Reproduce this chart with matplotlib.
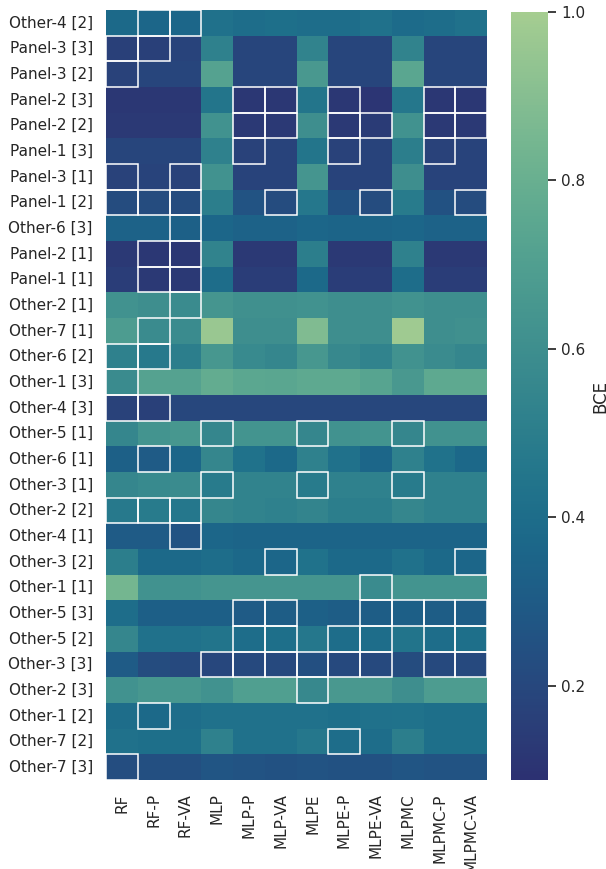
import numpy as np
import pandas as pd
import matplotlib
matplotlib.use("Agg")
import matplotlib.pyplot as plt
from matplotlib.patches import Rectangle
import seaborn as sns

models = ["RF", "RF-P", "RF-VA", "MLP", "MLP-P", "MLP-VA", "MLPE", "MLPE-P",
          "MLPE-VA", "MLPMC", "MLPMC-P", "MLPMC-VA"]

datasets = ["Other-4 [2]", "Panel-3 [3]", "Panel-3 [2]", "Panel-2 [3]", "Panel-2 [2]",
            "Panel-1 [3]", "Panel-3 [1]", "Panel-1 [2]", "Other-6 [3]", "Panel-2 [1]",
            "Panel-1 [1]", "Other-2 [1]", "Other-7 [1]", "Other-6 [2]", "Other-1 [3]",
            "Other-4 [3]", "Other-5 [1]", "Other-6 [1]", "Other-3 [1]", "Other-2 [2]",
            "Other-4 [1]", "Other-3 [2]", "Other-1 [1]", "Other-5 [3]", "Other-5 [2]",
            "Other-3 [3]", "Other-2 [3]", "Other-1 [2]", "Other-7 [2]", "Other-7 [3]"]

bce = [
    [0.38, 0.36, 0.36, 0.42, 0.40, 0.41, 0.40, 0.40, 0.42, 0.39, 0.40, 0.42],
    [0.16, 0.16, 0.18, 0.52, 0.19, 0.19, 0.53, 0.19, 0.19, 0.53, 0.19, 0.19],
    [0.17, 0.19, 0.19, 0.72, 0.19, 0.19, 0.66, 0.19, 0.19, 0.74, 0.19, 0.19],
    [0.12, 0.12, 0.12, 0.45, 0.12, 0.12, 0.45, 0.12, 0.11, 0.46, 0.12, 0.12],
    [0.13, 0.13, 0.13, 0.62, 0.13, 0.13, 0.60, 0.13, 0.14, 0.62, 0.13, 0.13],
    [0.19, 0.19, 0.19, 0.52, 0.17, 0.18, 0.45, 0.17, 0.18, 0.50, 0.17, 0.18],
    [0.17, 0.18, 0.17, 0.62, 0.18, 0.18, 0.64, 0.18, 0.18, 0.60, 0.18, 0.18],
    [0.22, 0.22, 0.22, 0.50, 0.26, 0.22, 0.46, 0.25, 0.22, 0.48, 0.25, 0.22],
    [0.34, 0.34, 0.33, 0.36, 0.34, 0.34, 0.36, 0.35, 0.35, 0.36, 0.34, 0.34],
    [0.13, 0.12, 0.12, 0.53, 0.13, 0.13, 0.50, 0.13, 0.13, 0.52, 0.13, 0.13],
    [0.15, 0.13, 0.13, 0.40, 0.15, 0.15, 0.38, 0.15, 0.15, 0.40, 0.15, 0.15],
    [0.62, 0.60, 0.58, 0.64, 0.61, 0.61, 0.62, 0.60, 0.60, 0.62, 0.60, 0.60],
    [0.68, 0.58, 0.58, 0.96, 0.60, 0.60, 0.88, 0.60, 0.60, 0.98, 0.60, 0.61],
    [0.52, 0.47, 0.50, 0.65, 0.57, 0.55, 0.65, 0.56, 0.53, 0.62, 0.58, 0.55],
    [0.58, 0.72, 0.72, 0.78, 0.75, 0.74, 0.76, 0.76, 0.73, 0.66, 0.76, 0.76],
    [0.17, 0.16, 0.20, 0.20, 0.20, 0.20, 0.20, 0.20, 0.20, 0.20, 0.20, 0.20],
    [0.55, 0.63, 0.65, 0.55, 0.63, 0.63, 0.55, 0.62, 0.63, 0.55, 0.62, 0.62],
    [0.33, 0.30, 0.36, 0.55, 0.43, 0.38, 0.52, 0.42, 0.36, 0.52, 0.43, 0.37],
    [0.55, 0.57, 0.58, 0.48, 0.53, 0.53, 0.48, 0.52, 0.52, 0.48, 0.52, 0.52],
    [0.47, 0.48, 0.46, 0.55, 0.53, 0.52, 0.54, 0.50, 0.50, 0.55, 0.52, 0.52],
    [0.30, 0.30, 0.26, 0.36, 0.35, 0.35, 0.35, 0.35, 0.35, 0.35, 0.35, 0.35],
    [0.50, 0.38, 0.38, 0.40, 0.37, 0.36, 0.43, 0.38, 0.38, 0.42, 0.38, 0.36],
    [0.84, 0.62, 0.62, 0.64, 0.64, 0.64, 0.64, 0.64, 0.58, 0.63, 0.63, 0.63],
    [0.40, 0.32, 0.32, 0.32, 0.30, 0.31, 0.33, 0.31, 0.31, 0.32, 0.31, 0.31],
    [0.55, 0.42, 0.42, 0.44, 0.40, 0.41, 0.46, 0.40, 0.40, 0.44, 0.40, 0.41],
    [0.30, 0.22, 0.21, 0.20, 0.21, 0.21, 0.24, 0.21, 0.21, 0.22, 0.21, 0.21],
    [0.62, 0.65, 0.65, 0.62, 0.70, 0.70, 0.56, 0.66, 0.66, 0.60, 0.68, 0.68],
    [0.40, 0.38, 0.40, 0.42, 0.42, 0.42, 0.42, 0.41, 0.42, 0.43, 0.41, 0.41],
    [0.42, 0.41, 0.41, 0.52, 0.42, 0.42, 0.46, 0.40, 0.40, 0.50, 0.41, 0.41],
    [0.23, 0.24, 0.24, 0.27, 0.26, 0.25, 0.26, 0.25, 0.25, 0.27, 0.26, 0.26],
]

# highlighted (best) cells per dataset
best = {
    "Other-4 [2]": ["RF-P", "RF-VA"],
    "Panel-3 [3]": ["RF", "RF-P"],
    "Panel-3 [2]": ["RF"],
    "Panel-2 [3]": ["MLP-P", "MLP-VA", "MLPE-P", "MLPMC-P", "MLPMC-VA"],
    "Panel-2 [2]": ["MLP-P", "MLP-VA", "MLPE-P", "MLPE-VA", "MLPMC-P", "MLPMC-VA"],
    "Panel-1 [3]": ["MLP-P", "MLPE-P", "MLPMC-P"],
    "Panel-3 [1]": ["RF", "RF-VA"],
    "Panel-1 [2]": ["RF", "RF-P", "RF-VA", "MLP-VA", "MLPE-VA", "MLPMC-VA"],
    "Other-6 [3]": ["RF-VA"],
    "Panel-2 [1]": ["RF-P", "RF-VA"],
    "Panel-1 [1]": ["RF-P", "RF-VA"],
    "Other-2 [1]": ["RF-VA"],
    "Other-7 [1]": ["RF-P"],
    "Other-6 [2]": ["RF", "RF-P"],
    "Other-1 [3]": ["RF"],
    "Other-4 [3]": ["RF", "RF-P"],
    "Other-5 [1]": ["MLP", "MLPE", "MLPMC"],
    "Other-6 [1]": ["RF-P"],
    "Other-3 [1]": ["MLP", "MLPE", "MLPMC"],
    "Other-2 [2]": ["RF", "RF-P", "RF-VA"],
    "Other-4 [1]": ["RF-VA"],
    "Other-3 [2]": ["MLP-VA", "MLPMC-VA"],
    "Other-1 [1]": ["MLPE-VA"],
    "Other-5 [3]": ["MLP-P", "MLP-VA", "MLPE-VA", "MLPMC", "MLPMC-P", "MLPMC-VA"],
    "Other-5 [2]": ["MLP-P", "MLP-VA", "MLPE-P", "MLPE-VA", "MLPMC-P", "MLPMC-VA"],
    "Other-3 [3]": ["MLP", "MLP-P", "MLP-VA", "MLPE", "MLPE-P", "MLPE-VA", "MLPMC-P", "MLPMC-VA"],
    "Other-2 [3]": ["MLPE"],
    "Other-1 [2]": ["RF-P"],
    "Other-7 [2]": ["MLPE-P"],
    "Other-7 [3]": ["RF"],
}

df = pd.DataFrame(bce, index=datasets, columns=models)

sns.set_theme(style="white")
fig = plt.figure(figsize=(6.06, 8.69), dpi=100)
ax = fig.add_axes([0.175, 0.1024, 0.629, 0.8861])
cax = fig.add_axes([0.8433, 0.1024, 0.0611, 0.8838])

sns.heatmap(df, ax=ax, cbar_ax=cax, cmap="crest_r", vmin=0.088, vmax=1.0,
            cbar_kws={"label": "BCE"})

for i, name in enumerate(datasets):
    for m in best[name]:
        j = models.index(m)
        ax.add_patch(Rectangle((j, i), 1, 1, fill=False, edgecolor="white",
                               linewidth=1.1, clip_on=False))

ax.set_xticklabels(models, rotation=90)
ax.set_yticklabels(datasets, rotation=0)

fig.savefig("out.png", dpi=100)
